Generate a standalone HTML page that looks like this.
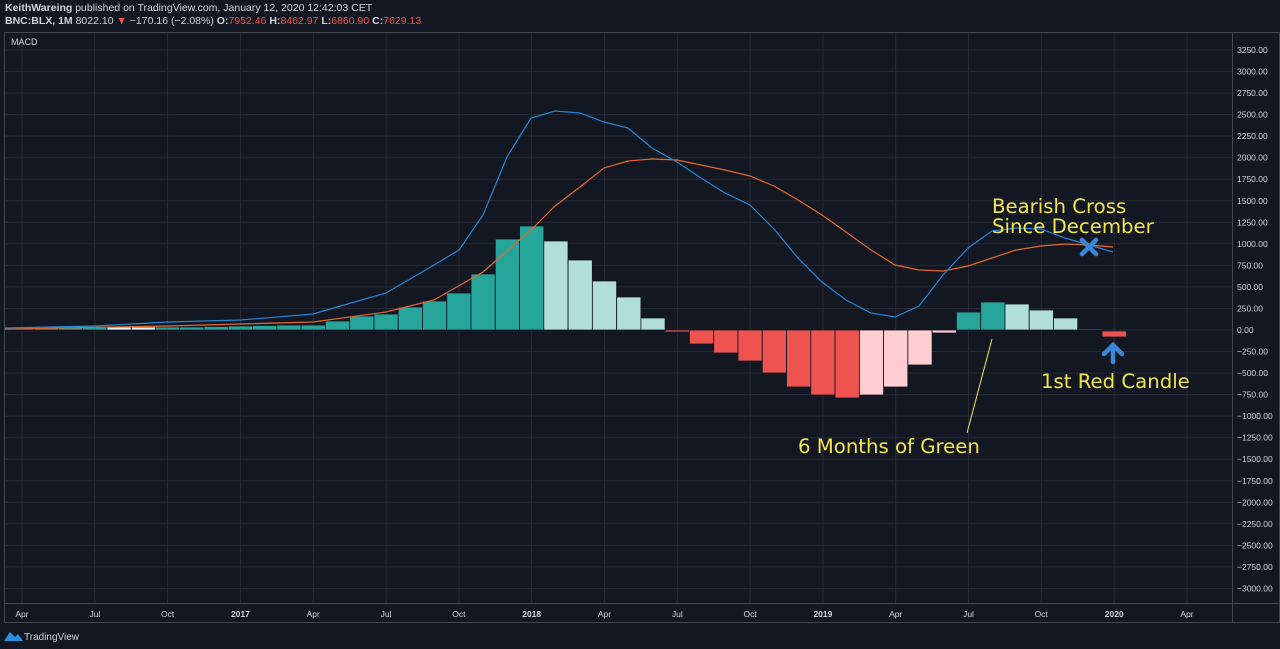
<!DOCTYPE html>
<html><head><meta charset="utf-8"><style>
body{margin:0;background:#131722;width:1280px;height:649px;overflow:hidden;font-family:"Liberation Sans",sans-serif}
svg{position:absolute;left:0;top:0}
</style></head><body>
<svg width="1280" height="649" viewBox="0 0 1280 649">
<rect width="1280" height="649" fill="#131722"/>
<text x="5" y="11" font-size="10.5" fill="#d1d4dc"><tspan font-weight="bold">KeithWareing</tspan> published on TradingView.com, January 12, 2020 12:42:03 CET</text>
<text x="5" y="24" font-size="10.5" fill="#d1d4dc"><tspan font-weight="bold">BNC:BLX, 1M</tspan> 8022.10 <tspan fill="#ef5350">▼</tspan> −170.16 (−2.08%) <tspan font-weight="bold">O:</tspan><tspan fill="#ef5350">7952.46</tspan> <tspan font-weight="bold">H:</tspan><tspan fill="#ef5350">8462.97</tspan> <tspan font-weight="bold">L:</tspan><tspan fill="#ef5350">6860.90</tspan> <tspan font-weight="bold">C:</tspan><tspan fill="#ef5350">7629.13</tspan></text>
<g stroke="#262a35" stroke-width="1">
<line x1="5" x2="1232" y1="50" y2="50"/><line x1="5" x2="1232" y1="71.5" y2="71.5"/><line x1="5" x2="1232" y1="93.1" y2="93.1"/><line x1="5" x2="1232" y1="114.6" y2="114.6"/><line x1="5" x2="1232" y1="136.1" y2="136.1"/><line x1="5" x2="1232" y1="157.7" y2="157.7"/><line x1="5" x2="1232" y1="179.2" y2="179.2"/><line x1="5" x2="1232" y1="200.8" y2="200.8"/><line x1="5" x2="1232" y1="222.3" y2="222.3"/><line x1="5" x2="1232" y1="243.8" y2="243.8"/><line x1="5" x2="1232" y1="265.4" y2="265.4"/><line x1="5" x2="1232" y1="286.9" y2="286.9"/><line x1="5" x2="1232" y1="308.5" y2="308.5"/><line x1="5" x2="1232" y1="330" y2="330"/><line x1="5" x2="1232" y1="351.5" y2="351.5"/><line x1="5" x2="1232" y1="373.1" y2="373.1"/><line x1="5" x2="1232" y1="394.6" y2="394.6"/><line x1="5" x2="1232" y1="416.2" y2="416.2"/><line x1="5" x2="1232" y1="437.7" y2="437.7"/><line x1="5" x2="1232" y1="459.2" y2="459.2"/><line x1="5" x2="1232" y1="480.8" y2="480.8"/><line x1="5" x2="1232" y1="502.3" y2="502.3"/><line x1="5" x2="1232" y1="523.8" y2="523.8"/><line x1="5" x2="1232" y1="545.4" y2="545.4"/><line x1="5" x2="1232" y1="566.9" y2="566.9"/><line x1="5" x2="1232" y1="588.5" y2="588.5"/>
<line y1="32" y2="603" x1="22" x2="22"/><line y1="32" y2="603" x1="94.8" x2="94.8"/><line y1="32" y2="603" x1="167.6" x2="167.6"/><line y1="32" y2="603" x1="240.4" x2="240.4"/><line y1="32" y2="603" x1="313.2" x2="313.2"/><line y1="32" y2="603" x1="386.1" x2="386.1"/><line y1="32" y2="603" x1="458.9" x2="458.9"/><line y1="32" y2="603" x1="531.7" x2="531.7"/><line y1="32" y2="603" x1="604.5" x2="604.5"/><line y1="32" y2="603" x1="677.3" x2="677.3"/><line y1="32" y2="603" x1="750.1" x2="750.1"/><line y1="32" y2="603" x1="822.9" x2="822.9"/><line y1="32" y2="603" x1="895.7" x2="895.7"/><line y1="32" y2="603" x1="968.5" x2="968.5"/><line y1="32" y2="603" x1="1041.3" x2="1041.3"/><line y1="32" y2="603" x1="1114.2" x2="1114.2"/><line y1="32" y2="603" x1="1187" x2="1187"/>
</g>
<rect x="4.5" y="32.5" width="1275" height="590" fill="none" stroke="#434651"/>
<line x1="1232.5" y1="32" x2="1232.5" y2="622" stroke="#434651"/>
<line x1="5" y1="603.5" x2="1280" y2="603.5" stroke="#434651"/>
<text x="11" y="45" font-size="9" fill="#d1d4dc">MACD</text>
<g stroke="#131722" stroke-width="0.8">
<rect x="9.9" y="328" width="24.2" height="2" fill="#26a69a"/><rect x="34.2" y="328" width="24.2" height="2" fill="#26a69a"/><rect x="58.4" y="327.5" width="24.2" height="2.5" fill="#26a69a"/><rect x="82.7" y="327.5" width="24.2" height="2.5" fill="#26a69a"/><rect x="107" y="327" width="24.2" height="3" fill="#e0f2f1"/><rect x="131.3" y="327" width="24.2" height="3" fill="#e0f2f1"/><rect x="155.5" y="327" width="24.2" height="3" fill="#26a69a"/><rect x="179.8" y="327" width="24.2" height="3" fill="#26a69a"/><rect x="204.1" y="326.5" width="24.2" height="3.5" fill="#26a69a"/><rect x="228.3" y="326" width="24.2" height="4" fill="#26a69a"/><rect x="252.6" y="325.5" width="24.2" height="4.5" fill="#26a69a"/><rect x="276.9" y="325" width="24.2" height="5" fill="#26a69a"/><rect x="301.1" y="325" width="24.2" height="5" fill="#26a69a"/><rect x="325.4" y="321" width="24.2" height="9" fill="#26a69a"/><rect x="349.7" y="316" width="24.2" height="14" fill="#26a69a"/><rect x="374" y="314" width="24.2" height="16" fill="#26a69a"/><rect x="398.2" y="307" width="24.2" height="23" fill="#26a69a"/><rect x="422.5" y="301" width="24.2" height="29" fill="#26a69a"/><rect x="446.8" y="293" width="24.2" height="37" fill="#26a69a"/><rect x="471" y="274" width="24.2" height="56" fill="#26a69a"/><rect x="495.3" y="239" width="24.2" height="91" fill="#26a69a"/><rect x="519.6" y="226" width="24.2" height="104" fill="#26a69a"/><rect x="543.8" y="241" width="24.2" height="89" fill="#b2dfdb"/><rect x="568.1" y="260" width="24.2" height="70" fill="#b2dfdb"/><rect x="592.4" y="281" width="24.2" height="49" fill="#b2dfdb"/><rect x="616.7" y="297" width="24.2" height="33" fill="#b2dfdb"/><rect x="640.9" y="318" width="24.2" height="12" fill="#b2dfdb"/>
<rect x="665.2" y="330" width="24.2" height="2" fill="#ef5350"/><rect x="689.5" y="330" width="24.2" height="14" fill="#ef5350"/><rect x="713.7" y="330" width="24.2" height="23" fill="#ef5350"/><rect x="738" y="330" width="24.2" height="31" fill="#ef5350"/><rect x="762.3" y="330" width="24.2" height="43" fill="#ef5350"/><rect x="786.6" y="330" width="24.2" height="57" fill="#ef5350"/><rect x="810.8" y="330" width="24.2" height="65" fill="#ef5350"/><rect x="835.1" y="330" width="24.2" height="68" fill="#ef5350"/><rect x="859.4" y="330" width="24.2" height="65" fill="#ffcdd2"/><rect x="883.6" y="330" width="24.2" height="57" fill="#ffcdd2"/><rect x="907.9" y="330" width="24.2" height="35" fill="#ffcdd2"/><rect x="932.2" y="330" width="24.2" height="3" fill="#ffcdd2"/>
<rect x="956.4" y="312" width="24.2" height="18" fill="#26a69a"/><rect x="980.7" y="302" width="24.2" height="28" fill="#26a69a"/><rect x="1005" y="304" width="24.2" height="26" fill="#b2dfdb"/><rect x="1029.2" y="310" width="24.2" height="20" fill="#b2dfdb"/><rect x="1053.5" y="318" width="24.2" height="12" fill="#b2dfdb"/><rect x="1077.8" y="329.3" width="24.2" height="1" fill="#b2dfdb"/><rect x="1102.1" y="331" width="24.2" height="6" fill="#ef5350"/>
</g>
<polyline fill="none" stroke="#e5682a" stroke-width="1.2" points="5,329 168,326 313,322 386,312 434,300 483,272 531,230 555,206 580,187 604,168 628,161 652,159 677,160 701,165 725,170 750,176 774,186 798,200 822,215 846,232 871,250 895,265 919,270 943,271 968,266 992,258 1016,250 1041,246 1065,244 1089,245 1113,247"/>
<polyline fill="none" stroke="#2784d6" stroke-width="1.2" points="5,328 95,326 168,322 241,320 313,314 337,307 386,293 434,265 459,250 483,215 507,157 531,118 555,111 580,113 604,122 628,128 652,148 677,162 701,178 725,193 750,205 774,229 798,258 822,282 846,300 871,313 895,317 919,306 943,275 968,248 992,231 1016,228 1041,229 1065,238 1089,245 1113,252"/>
<g font-family="'DejaVu Sans',sans-serif" font-size="19.7" fill="#f2e64a">
<text x="992" y="213">Bearish Cross</text>
<text x="992" y="233">Since December</text>
<text x="1041" y="388">1st Red Candle</text>
<text x="798" y="453">6 Months of Green</text>
</g>
<line x1="992" y1="339" x2="967" y2="433" stroke="#f2e64a" stroke-width="1"/>
<g stroke="#3a87d8" stroke-width="4.5" stroke-linecap="round">
<line x1="1082" y1="240" x2="1096" y2="254"/><line x1="1096" y1="240" x2="1082" y2="254"/>
<line x1="1113" y1="346" x2="1113" y2="362"/><polyline fill="none" points="1104,354 1113,345 1122,354"/>
</g>
<g font-size="8.5" fill="#d1d4dc">
<text x="1237" y="53">3250.00</text><text x="1237" y="74.5">3000.00</text><text x="1237" y="96.1">2750.00</text><text x="1237" y="117.6">2500.00</text><text x="1237" y="139.1">2250.00</text><text x="1237" y="160.7">2000.00</text><text x="1237" y="182.2">1750.00</text><text x="1237" y="203.8">1500.00</text><text x="1237" y="225.3">1250.00</text><text x="1237" y="246.8">1000.00</text><text x="1237" y="268.4">750.00</text><text x="1237" y="289.9">500.00</text><text x="1237" y="311.5">250.00</text><text x="1237" y="333">0.00</text><text x="1237" y="354.5">−250.00</text><text x="1237" y="376.1">−500.00</text><text x="1237" y="397.6">−750.00</text><text x="1237" y="419.2">−1000.00</text><text x="1237" y="440.7">−1250.00</text><text x="1237" y="462.2">−1500.00</text><text x="1237" y="483.8">−1750.00</text><text x="1237" y="505.3">−2000.00</text><text x="1237" y="526.8">−2250.00</text><text x="1237" y="548.4">−2500.00</text><text x="1237" y="569.9">−2750.00</text><text x="1237" y="591.5">−3000.00</text>
</g>
<g font-size="8.5" fill="#d1d4dc" text-anchor="middle">
<text x="22" y="617">Apr</text><text x="94.8" y="617">Jul</text><text x="167.6" y="617">Oct</text><text x="240.4" y="617" font-weight="bold">2017</text><text x="313.2" y="617">Apr</text><text x="386.1" y="617">Jul</text><text x="458.9" y="617">Oct</text><text x="531.7" y="617" font-weight="bold">2018</text><text x="604.5" y="617">Apr</text><text x="677.3" y="617">Jul</text><text x="750.1" y="617">Oct</text><text x="822.9" y="617" font-weight="bold">2019</text><text x="895.7" y="617">Apr</text><text x="968.5" y="617">Jul</text><text x="1041.3" y="617">Oct</text><text x="1114.2" y="617" font-weight="bold">2020</text><text x="1187" y="617">Apr</text>
</g>
<path d="M4,641 L10,632 L15,637 L18,634 L23,641 Z" fill="#2a8fe0"/>
<text x="24" y="640" font-size="10" fill="#d1d4dc">TradingView</text>
</svg>
</body></html>
